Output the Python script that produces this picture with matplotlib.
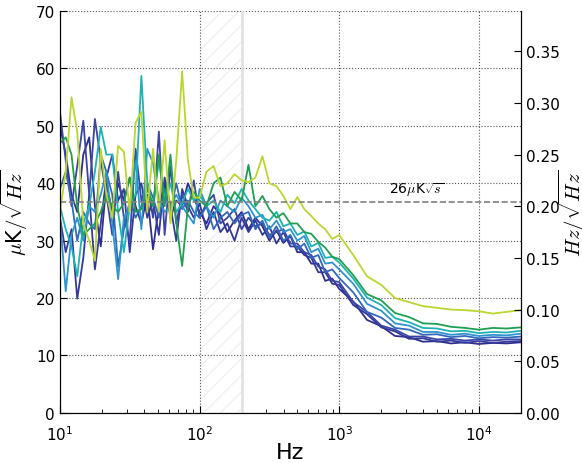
import numpy as np
import matplotlib
matplotlib.use('Agg')
import matplotlib.pyplot as plt

# frequency grid (Hz)
freq = [10.0, 11.0, 12.1, 13.3, 14.7, 16.2, 17.8, 19.6, 21.5, 23.7, 26.1, 28.7,
        31.6, 34.8, 38.3, 42.2, 46.4, 51.1, 56.2, 61.9, 68.1, 75.0, 82.5, 90.9,
        100, 112, 126, 141, 158, 178, 200, 224, 251, 282, 316, 355, 398, 447,
        501, 562, 631, 708, 794, 891,
        1000, 1260, 1580, 2000, 2510, 3160, 3980, 5010, 6310, 7940, 10000,
        12600, 15800, 20000]

# noise spectra, uK/sqrt(Hz)
ch_yellow = [35, 42, 55, 49, 33, 30, 26.5, 46, 38, 34, 46.5, 45.5,
             35, 50.5, 52.5, 35, 46, 35, 47.5, 33, 44, 59.5, 44, 37.5,
             37.5, 42, 43, 39.5, 40, 41.6, 40.5, 40.2, 41, 44.7, 40, 39.5, 37.8, 35.5,
             37.6, 35.5, 34.3, 33, 32, 30.3,
             31, 27.5, 23.8, 22.3, 20.0, 19.3, 18.6, 18.3, 18.0, 17.9, 17.7, 17.3, 17.6, 17.9]
ch_green = [47, 48, 45, 36, 31, 32, 33, 35, 38, 36, 35, 36.5,
            41, 35, 35.5, 39, 36, 45, 36, 45, 33, 25.6, 36, 38.5,
            37, 36, 40, 41, 36, 38.5, 37, 43.2, 36, 37.8, 35.5, 34, 34.8, 33,
            33, 31.5, 31.2, 29.8, 28.8, 27.2,
            26.8, 24, 20.7, 19.6, 17.4, 16.7, 15.6, 15.5, 15.0, 14.8, 14.5, 14.8, 14.7, 14.9]
ch_teal = [36, 32, 29, 23.8, 33, 36, 42, 49.8, 45, 45, 35, 28,
           36, 38, 58.7, 40, 36, 44, 37, 40, 35, 36.5, 39, 37,
           38, 36, 37, 35, 38, 36.5, 39, 37, 35.5, 34, 33.5, 35, 32.5, 33,
           31, 31.6, 29, 29.6, 27, 27.2,
           26.2, 23.4, 20.1, 18.8, 16.5, 15.8, 14.8, 14.7, 14.2, 14.3, 13.9, 14.1, 14.0, 14.3]
ch_lightblue = [34, 21.2, 31, 34, 30, 36, 35, 38, 42, 33, 23.3, 34,
                36, 44, 32, 46, 43.5, 37, 35, 36, 38, 36, 34.5, 33,
                39, 36, 34, 37, 36, 35, 37.5, 36, 34, 34.5, 32, 33.5, 31.5, 32,
                30, 30.8, 28, 28.6, 26, 26.2,
                25, 22.5, 19, 17.8, 15.6, 15.2, 14.1, 14.1, 13.6, 13.8, 13.4, 13.6, 13.5, 13.8]
ch_blue = [39, 42, 37, 30, 35, 33, 32, 45, 42, 38, 25.5, 32,
           37, 34, 36, 40, 37.5, 34, 39, 35, 40, 35.5, 37, 35,
           34, 36, 32, 34, 35, 33, 34.5, 35, 32, 33.5, 30.5, 32.5, 30, 31,
           28.5, 29.5, 27, 27.5, 24.5, 25,
           23.5, 21, 17.6, 16.6, 14.8, 14.5, 13.6, 13.7, 13.2, 13.4, 13.0, 13.2, 13.1, 13.3]
ch_dark1 = [52.4, 44, 36, 43, 50.9, 38, 51.2, 44, 38, 31, 42, 34,
            30, 46, 37, 40, 34, 49, 31, 43, 33, 38, 35, 40.5,
            34, 36.5, 38, 33, 34, 35.5, 32, 34, 32.5, 33, 31, 31.5, 32, 29.5,
            29.5, 28, 27.5, 25.5, 25, 23,
            22.8, 19.3, 17.6, 15.2, 14.5, 13.3, 13.3, 12.8, 12.9, 12.6, 12.8, 12.6, 12.8, 12.8]
ch_dark2 = [34, 28, 32, 19.9, 27, 38, 25, 33, 41, 45, 37, 39,
            28, 38, 40, 34, 37, 31, 41, 36, 30, 39, 36, 34,
            36.5, 32, 35, 31.5, 33, 30, 34, 31.5, 33.5, 31, 32.5, 29.5, 31.5, 29,
            29, 27.5, 27, 24.5, 24.5, 22.5,
            22.3, 18.8, 17.2, 14.9, 14.2, 12.9, 13.0, 12.4, 12.6, 12.2, 12.5, 12.2, 12.4, 12.5]
ch_dark3 = [50, 45, 38, 35, 45, 48, 36, 29, 40, 35, 40, 37,
            41, 36, 33, 38, 28.5, 36, 40, 34, 37, 36, 40, 37.5,
            35, 33, 36, 34.5, 31.5, 33.5, 35, 32, 34, 32.5, 30, 31.8, 29.6, 30.8,
            28, 28, 26, 26, 23, 23.4,
            21.6, 19.4, 16.2, 15.1, 13.4, 13.2, 12.4, 12.5, 12.1, 12.3, 12.0, 12.2, 12.1, 12.3]

series = [ch_dark3, ch_dark2, ch_dark1, ch_blue, ch_lightblue, ch_teal, ch_green, ch_yellow]
colors = ['#2e2e8e', '#33399a', '#3a45a6', '#3268bc', '#2d93cf', '#1fb2b4', '#1ea050', '#bdd52f']

nep_level = 26 * np.sqrt(2)   # uK/sqrt(Hz) for 26 uK sqrt(s)
scale = 180.0                  # left axis -> right axis

plt.rcParams['font.size'] = 11
plt.rcParams['mathtext.fontset'] = 'cm'
plt.rcParams['hatch.color'] = '#eeeeee'
plt.rcParams['hatch.linewidth'] = 0.8

fig = plt.figure(figsize=(5.82, 4.64), dpi=100)
ax = fig.add_axes([0.103, 0.108, 0.792, 0.866])

ax.axvspan(100, 200, facecolor='none', edgecolor='#eeeeee', hatch='//', linewidth=0)
ax.axvline(200, color='#e0e0e0', lw=1.8)

for s, c in zip(series, colors):
    ax.plot(freq, s, color=c, lw=1.3)

ax.axhline(nep_level, color='gray', ls='--', lw=1.2)
ax.text(3600, nep_level + 0.8, r'26$\mu$K$\sqrt{s}$', ha='center', va='bottom', fontsize=10)

ax.set_xscale('log')
ax.set_xlim(10, 20000)
ax.set_ylim(0, 70)
ax.set_yticks(np.arange(0, 71, 10))
ax.grid(True, which='major', color='#555555', ls=':', lw=0.8)
ax.tick_params(which='both', direction='in', top=False, right=False)
ax.tick_params(axis='x', which='major', length=5, pad=8)
ax.tick_params(axis='y', which='major', length=5)
ax.tick_params(which='minor', length=3)
ax.spines['top'].set_visible(False)
ax.set_xlabel('Hz', fontsize=16)
ax.xaxis.set_label_coords(0.5, -0.072)
ax.set_ylabel(r'$\mu$K$/\sqrt{Hz}$', fontsize=15)
ax.yaxis.set_label_coords(-0.066, 0.5)

ax2 = ax.twinx()
ax2.set_ylim(0, 70 / scale)
ax2.set_yticks(np.arange(0, 0.36, 0.05))
ax2.set_yticklabels(['%.2f' % v for v in np.arange(0, 0.36, 0.05)])
ax2.tick_params(direction='in', length=5)
ax2.spines['top'].set_visible(False)
ax2.set_ylabel(r'$Hz/\sqrt{Hz}$', fontsize=15)
ax2.yaxis.set_label_coords(1.078, 0.5)

fig.savefig('out.png', dpi=100)
